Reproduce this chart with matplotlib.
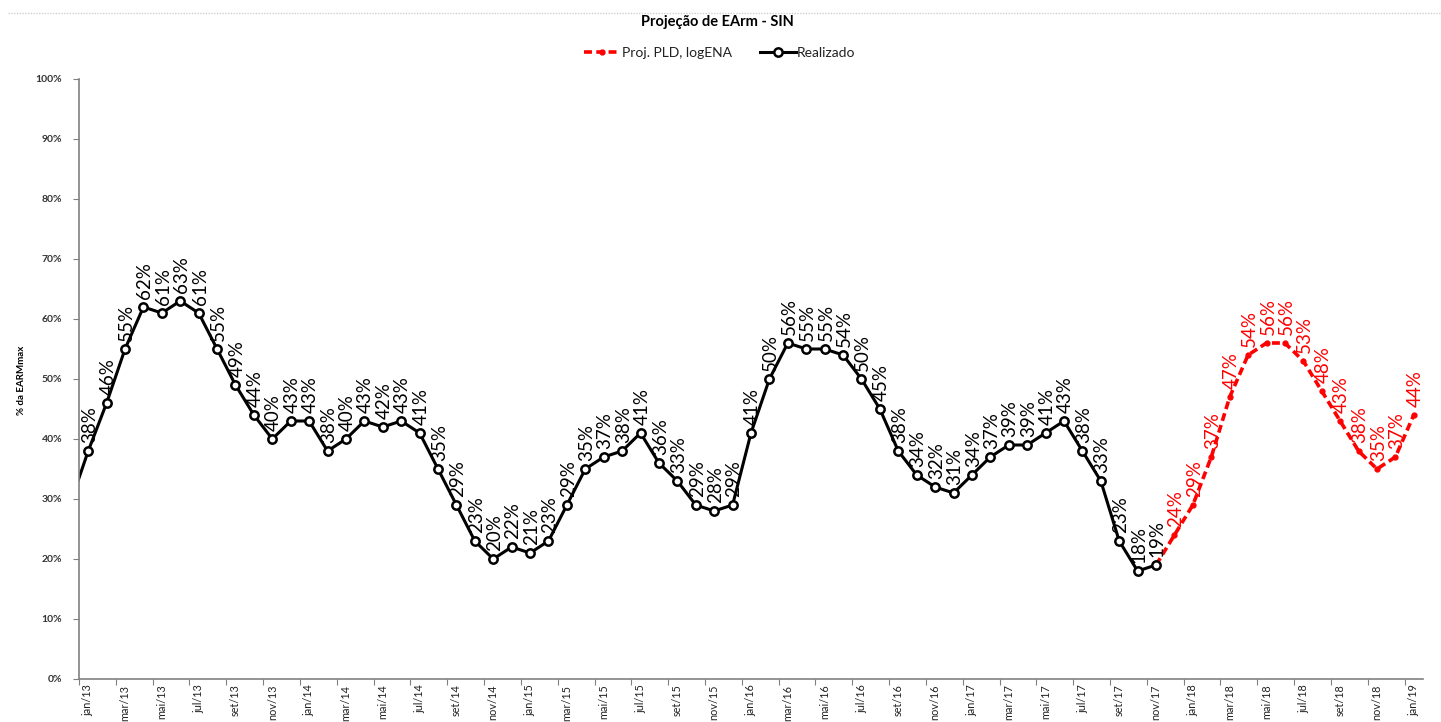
import matplotlib.pyplot as plt
from matplotlib.lines import Line2D
from matplotlib.ticker import FixedLocator, NullFormatter, PercentFormatter

plt.rcParams['font.family'] = ['Lato', 'DejaVu Sans']

# month names used on the axis (Portuguese)
meses = ['jan', 'fev', 'mar', 'abr', 'mai', 'jun', 'jul', 'ago', 'set', 'out', 'nov', 'dez']
anos = [13, 14, 15, 16, 17, 18, 19]

# stored energy, % of EARM max, dez/12 .. nov/17
realizado = [29, 38, 46, 55, 62, 61, 63, 61, 55, 49, 44, 40, 43,
             43, 38, 40, 43, 42, 43, 41, 35, 29, 23, 20, 22,
             21, 23, 29, 35, 37, 38, 41, 36, 33, 29, 28, 29,
             41, 50, 56, 55, 55, 54, 50, 45, 38, 34, 32, 31,
             34, 37, 39, 39, 41, 43, 38, 33, 23, 18, 19]
# projection (PLD, logENA), nov/17 .. jan/19
projecao = [19, 24, 29, 37, 47, 54, 56, 56, 53, 48, 43, 38, 35, 37, 44]

x_real = list(range(-1, len(realizado) - 1))
x_proj = list(range(len(realizado) - 2, len(realizado) - 2 + len(projecao)))

labels = []
for a in anos:
    for m in meses:
        labels.append(f'{m}/{a}')
labels = labels[:73]

fig = plt.figure(figsize=(14.41, 7.22), dpi=100)
ax = fig.add_axes([79 / 1441, 1 - 679 / 722, (1423 - 79) / 1441, 600 / 722])

ax.plot(x_proj, projecao, color='red', lw=2.6, ls=(0, (2.2, 1.2)),
        marker='o', ms=3.5, mfc='red', mec='red', label='Proj. PLD, logENA')
ax.plot(x_real, realizado, color='black', lw=2.2, marker='o', ms=6,
        mfc='white', mec='black', mew=1.8, label='Realizado')

# value labels
for x, v in zip(x_real[1:], realizado[1:]):
    ax.annotate(f'{v:.0f}%', (x, v), xytext=(1, 6), textcoords='offset points',
                rotation=90, ha='center', va='bottom', fontsize=13.5, color='black')
for x, v in zip(x_proj[1:], projecao[1:]):
    ax.annotate(f'{v:.0f}%', (x, v), xytext=(1, 6), textcoords='offset points',
                rotation=90, ha='center', va='bottom', fontsize=13.5, color='red')

ax.set_xlim(-0.5, 72.5)
ax.set_ylim(0, 100)

# tick marks between categories, labels on every other month
ax.xaxis.set_major_locator(FixedLocator([i - 0.5 for i in range(0, 74, 2)]))
ax.xaxis.set_major_formatter(NullFormatter())
ax.xaxis.set_minor_locator(FixedLocator(list(range(0, 73, 2))))
ax.set_xticklabels([labels[i] for i in range(0, 73, 2)], minor=True,
                   rotation=90, fontsize=7.8, va='top', color='#222222')
ax.tick_params(axis='x', which='major', length=4, color='#808080', direction='out')
ax.tick_params(axis='x', which='minor', length=0, pad=4)

ax.set_yticks(range(0, 101, 10))
ax.yaxis.set_major_formatter(PercentFormatter(decimals=0))
ax.tick_params(axis='y', length=4, color='#808080', labelsize=7.5, pad=8)
for t in ax.get_yticklabels():
    t.set_fontweight('bold')
    t.set_color('#333333')

for s in ['top', 'right']:
    ax.spines[s].set_visible(False)
for s in ['left', 'bottom']:
    ax.spines[s].set_color('#808080')
    ax.spines[s].set_linewidth(1.2)

fig.text(22 / 1441, 1 - 380 / 722, '% da EARMmax', rotation=90, ha='center',
         va='center', fontsize=7, fontweight='bold')
fig.text(717 / 1441, 1 - 22 / 722, 'Projeção de EArm - SIN', ha='center',
         va='center', fontsize=10.5, fontweight='bold')

fig.legend(loc='center', bbox_to_anchor=(720 / 1441, 1 - 53 / 722), ncol=2,
           frameon=False, fontsize=10, handlelength=2.6, columnspacing=2.0,
           handletextpad=0.1, labelcolor='#222222')

# faint dotted rule across the top
fig.add_artist(Line2D([8 / 1441, 1], [1 - 13 / 722] * 2, transform=fig.transFigure,
                      color='#d0d0d0', lw=1, ls=(0, (1, 1))))

fig.savefig('out.png', dpi=100)
